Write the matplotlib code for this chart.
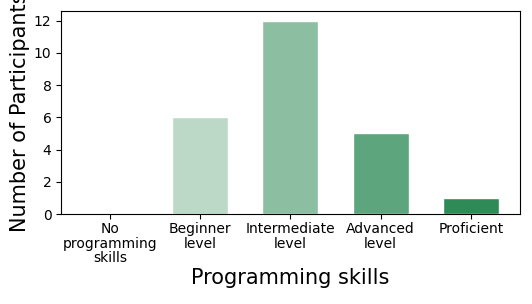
import matplotlib
matplotlib.use('Agg')
import matplotlib.pyplot as plt
import seaborn as sns

# Data
categories = ['No\nprogramming\nskills', 'Beginner\nlevel', 'Intermediate\nlevel',
              'Advanced\nlevel', 'Proficient']
participants = [0, 6, 12, 5, 1]

colors = sns.light_palette('seagreen', len(categories))

fig = plt.figure(figsize=(5.32, 3.04), dpi=100)
ax = fig.add_axes([0.115, 0.296, 0.862, 0.668])

x = range(len(categories))
ax.bar(x, participants, width=0.62, color=colors, edgecolor='white', linewidth=1)
ax.set_xlim(-0.54, 4.54)
ax.set_ylim(0, 12.6)
ax.set_xticks(list(x))
ax.set_xticklabels(categories, fontsize=10, linespacing=1.05)
ax.tick_params(axis='y', labelsize=10)
ax.tick_params(axis='x', pad=2.5)

ax.set_xlabel('Programming skills', fontsize=15, labelpad=2)
ax.set_ylabel('Number of Participants', fontsize=15, labelpad=3)

fig.savefig('out.png', dpi=100)
